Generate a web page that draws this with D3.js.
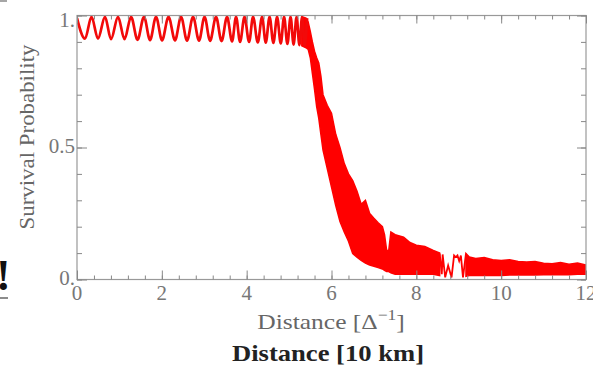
<!DOCTYPE html>
<meta charset='utf-8'>
<html>
  <style>
    body { margin: 0; background: #fff; }
    .axis path { display: none; }
    .axis line { stroke: #888; stroke-width: 1px; }
    .lbl { font-family: "Liberation Serif", serif; fill: #666; }
  </style>
  <head>
    <script src="https://cdn.jsdelivr.net/npm/d3@7/dist/d3.min.js"></script>
  </head>
  <body>
    <div id="chart"></div>
    <script>
      // oscillating part: maxima and minima
      var peakX = [0, 0.342, 0.660, 0.967, 1.274, 1.580, 1.863, 2.158, 2.453, 2.736, 3.007, 3.278, 3.538, 3.750, 3.950, 4.151, 4.363, 4.540, 4.717, 4.882, 5.035, 5.177, 5.307, 5.425];
      var peakV = [0.99, 0.995, 0.995, 0.995, 0.995, 0.995, 0.995, 0.995, 0.995, 0.995, 0.995, 0.995, 0.995, 0.995, 0.995, 0.995, 0.995, 0.995, 0.995, 0.995, 0.995, 0.995, 0.995, 0.99];
      var troughX = [0.189, 0.495, 0.802, 1.120, 1.427, 1.722, 2.005, 2.311, 2.594, 2.877, 3.137, 3.408, 3.656, 3.844, 4.057, 4.262, 4.450, 4.630, 4.804, 4.960, 5.106, 5.243, 5.366];
      var troughV = [0.912, 0.912, 0.91, 0.91, 0.908, 0.907, 0.906, 0.906, 0.905, 0.905, 0.904, 0.903, 0.902, 0.90, 0.90, 0.898, 0.897, 0.896, 0.894, 0.892, 0.89, 0.888, 0.885];

      // dense fast-oscillating band: upper / lower envelope
      var bandX  = [5.30, 5.40, 5.45, 5.50, 5.55, 5.60, 5.65, 5.70, 5.75, 5.80, 5.90, 6.00, 6.10, 6.20, 6.30, 6.40, 6.50, 6.60, 6.70, 6.80, 6.90, 7.00, 7.10, 7.20, 7.25, 7.30, 7.35, 7.40, 7.50, 7.70, 7.85, 8.00, 8.20, 8.40, 8.55];
      var bandHi = [0.995, 0.99, 0.975, 0.94, 0.90, 0.865, 0.84, 0.82, 0.77, 0.70, 0.66, 0.63, 0.55, 0.50, 0.44, 0.40, 0.375, 0.335, 0.285, 0.30, 0.25, 0.232, 0.215, 0.20, 0.17, 0.11, 0.11, 0.18, 0.17, 0.16, 0.14, 0.13, 0.125, 0.11, 0.10];
      var bandLo = [0.885, 0.878, 0.872, 0.84, 0.78, 0.72, 0.655, 0.61, 0.55, 0.49, 0.42, 0.35, 0.28, 0.22, 0.18, 0.145, 0.098, 0.085, 0.072, 0.062, 0.055, 0.05, 0.045, 0.04, 0.035, 0.03, 0.03, 0.025, 0.02, 0.02, 0.02, 0.02, 0.02, 0.02, 0.015];

      // sparse wiggles near 9
      var sparseX = [8.55, 8.60, 8.62, 8.68, 8.75, 8.83, 8.89, 8.93, 8.97, 9.01, 9.05, 9.10, 9.17];
      var sparseV = [0.098, 0.02, 0.095, 0.008, 0.053, 0.008, 0.091, 0.085, 0.091, 0.07, 0.091, 0.008, 0.098];

      // tail band
      var tailX  = [9.17, 9.25, 9.4, 9.6, 9.8, 10.0, 10.2, 10.4, 10.6, 10.8, 11.0, 11.2, 11.4, 11.6, 11.8, 12.0];
      var tailHi = [0.098, 0.085, 0.08, 0.083, 0.075, 0.072, 0.075, 0.068, 0.066, 0.068, 0.062, 0.06, 0.064, 0.058, 0.062, 0.055];
      var tailLo = [0.012, 0.015, 0.015, 0.015, 0.015, 0.015, 0.017, 0.017, 0.017, 0.017, 0.018, 0.018, 0.018, 0.018, 0.02, 0.02];

      var xTicks = [0, 2, 4, 6, 8, 10, 12];
      var yTicks = [0, 0.5, 1];
      var yTickLabels = ["0.", "0.5", "1."];

      var W = 593, H = 365,
          pL = 77, pR = 586, pT = 15.5, pB = 279.5,
          red = "#f00";

      var x = d3.scaleLinear().domain([0, 12]).range([pL, pR]);
      var y = d3.scaleLinear().domain([0, 1]).range([pB, pT]);

      var svg = d3.select("#chart").append("svg")
        .attr("width", W).attr("height", H);

      // clip for the data
      svg.append("clipPath").attr("id", "clip")
        .append("rect").attr("x", pL).attr("y", pT - 2)
        .attr("width", pR - pL).attr("height", pB - pT + 2);

      var plot = svg.append("g").attr("clip-path", "url(#clip)");

      var band = [];
      for (var i = 0; i < bandX.length; i++) band.push({x: bandX[i], hi: bandHi[i], lo: bandLo[i]});
      var tail = [];
      for (i = 0; i < tailX.length; i++) tail.push({x: tailX[i], hi: tailHi[i], lo: tailLo[i]});

      var area = d3.area()
        .x(function(d) { return x(d.x); })
        .y0(function(d) { return y(d.lo); })
        .y1(function(d) { return y(d.hi); });

      plot.append("path").datum(band).attr("d", area)
        .attr("fill", red).attr("stroke", red).attr("stroke-width", 1.5);
      plot.append("path").datum(tail).attr("d", area)
        .attr("fill", red).attr("stroke", red).attr("stroke-width", 1.5);

      var osc = [];
      for (i = 0; i < peakX.length; i++) osc.push([peakX[i], peakV[i]]);
      for (i = 0; i < troughX.length; i++) osc.push([troughX[i], troughV[i]]);
      osc.sort(function(a, b) { return a[0] - b[0]; });

      var line = d3.line()
        .x(function(d) { return x(d[0]); })
        .y(function(d) { return y(d[1]); });

      plot.append("path").datum(osc)
        .attr("d", line.curve(d3.curveMonotoneX))
        .attr("fill", "none").attr("stroke", "#f20a0a").attr("stroke-width", 2.7);

      var sparse = sparseX.map(function(v, k) { return [v, sparseV[k]]; });
      plot.append("path").datum(sparse)
        .attr("d", d3.line().x(function(d) { return x(d[0]); }).y(function(d) { return y(d[1]); }))
        .attr("fill", "none").attr("stroke", red).attr("stroke-width", 1.8);

      // frame
      svg.append("rect")
        .attr("x", pL).attr("y", pT)
        .attr("width", pR - pL).attr("height", pB - pT)
        .attr("fill", "none").attr("stroke", "#999").attr("stroke-width", 1.2);

      var xMinor = d3.range(0, 12.01, 0.4), yMinor = d3.range(0, 1.001, 0.1);

      function ax(gen, scale, vals, size, tx, ty) {
        return svg.append("g").attr("class", "axis")
          .attr("transform", "translate(" + tx + "," + ty + ")")
          .call(gen(scale).tickValues(vals).tickSize(size).tickFormat(""));
      }
      ax(d3.axisBottom, x, xMinor, -4, 0, pB);
      ax(d3.axisBottom, x, xTicks, -9, 0, pB);
      ax(d3.axisTop, x, xMinor, -4, 0, pT);
      ax(d3.axisTop, x, xTicks, -8, 0, pT);
      ax(d3.axisLeft, y, yMinor, -5, pL, 0);
      ax(d3.axisLeft, y, yTicks, -10, pL, 0);
      ax(d3.axisRight, y, yMinor, -5, pR, 0);
      ax(d3.axisRight, y, yTicks, -9, pR, 0);

      // tick labels
      svg.selectAll(".xl").data(xTicks).enter().append("text")
        .attr("class", "lbl")
        .attr("x", function(d) { return x(d); })
        .attr("y", 300)
        .attr("text-anchor", "middle")
        .style("font-size", "21px").style("fill", "#777")
        .text(function(d) { return d; });

      svg.selectAll(".yl").data(yTicks).enter().append("text")
        .attr("class", "lbl")
        .attr("x", 75)
        .attr("y", function(d) { return y(d) + (d == 1 ? 4.5 : -2); })
        .attr("dy", "0.35em")
        .attr("text-anchor", "end")
        .style("font-size", "21px").style("fill", "#777")
        .text(function(d, i) { return yTickLabels[i]; });

      // axis titles
      svg.append("text").attr("class", "lbl")
        .attr("transform", "translate(34,137) rotate(-90)")
        .attr("text-anchor", "middle")
        .attr("textLength", 185).attr("lengthAdjust", "spacingAndGlyphs")
        .style("font-size", "22px")
        .text("Survival Probability");

      var xt = svg.append("text").attr("class", "lbl")
        .attr("x", 331).attr("y", 329)
        .attr("text-anchor", "middle")
        .style("font-size", "22px");
      xt.append("tspan").text("Distance [\u0394");
      xt.append("tspan").attr("dy", -9).style("font-size", "15px").text("\u22121");
      xt.append("tspan").attr("dy", 9).text("]");
      xt.attr("transform", "translate(331,0) scale(1.16,1) translate(-331,0)");

      svg.append("text")
        .attr("x", 328).attr("y", 361)
        .attr("text-anchor", "middle")
        .attr("textLength", 192).attr("lengthAdjust", "spacingAndGlyphs")
        .style("font-family", "Liberation Serif, serif")
        .style("font-weight", "bold")
        .style("font-size", "24px")
        .style("fill", "#222")
        .text("Distance [10 km]");

      // bits of the slide around the chart
      svg.append("text")
        .attr("x", -4).attr("y", 290)
        .style("font-family", "Liberation Serif, serif")
        .style("font-weight", "bold")
        .style("font-size", "44px")
        .style("fill", "#111")
        .text("!");
      svg.append("line").attr("x1", 0).attr("x2", 8).attr("y1", 298).attr("y2", 298)
        .attr("stroke", "#666").attr("stroke-width", 1.5);
      svg.append("line").attr("x1", 0).attr("x2", 7).attr("y1", 1).attr("y2", 1)
        .attr("stroke", "#888").attr("stroke-width", 1.5);
    </script>
  </body>
</html>
